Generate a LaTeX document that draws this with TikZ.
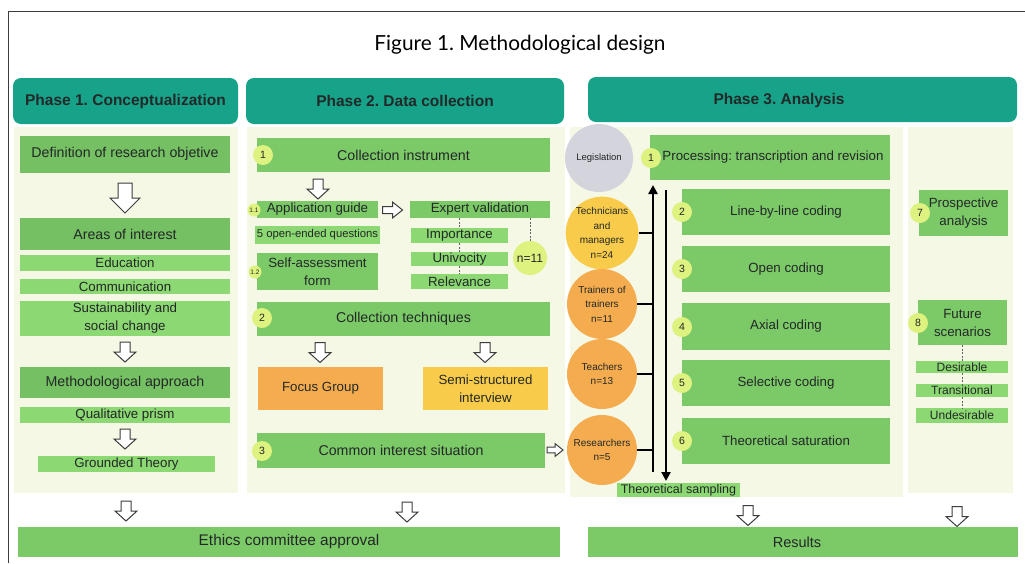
\documentclass[tikz,border=0pt]{standalone}
\usepackage{fontspec}
\setmainfont{Liberation Sans}
\newfontfamily\titlefont{Lato}
\usetikzlibrary{arrows.meta,calc}
\frenchspacing
\definecolor{teal1}{RGB}{22,163,137}
\definecolor{paleBG}{RGB}{244,248,229}
\definecolor{boxG}{RGB}{124,201,104}
\definecolor{boxD}{RGB}{116,192,98}
\definecolor{boxL}{RGB}{140,216,114}
\definecolor{numY}{RGB}{222,242,128}
\definecolor{orangeC}{RGB}{245,172,78}
\definecolor{yellowC}{RGB}{248,204,74}
\definecolor{greyC}{RGB}{212,212,220}
\definecolor{txt}{RGB}{35,40,40}
\definecolor{arrowG}{RGB}{60,60,60}
\tikzset{
 header/.style={rectangle, rounded corners=8pt, fill=teal1, text=txt, inner sep=0pt, font=\fontsize{15.5}{18}\selectfont\bfseries},
 box/.style={rectangle, fill=boxG, text=txt, inner sep=0pt, align=center, font=\fontsize{13.3}{18}\selectfont},
 bbox/.style={box, font=\fontsize{14.2}{18}\selectfont},
 dbox/.style={bbox, fill=boxD},
 subbox/.style={box, fill=boxL},
 bar/.style={box, fill=boxG, font=\fontsize{15.4}{18}\selectfont},
 num/.style={circle, fill=numY, inner sep=0pt, minimum size=20pt, text=txt, font=\fontsize{10.5}{12}\selectfont},
 numS/.style={num, minimum size=13pt, font=\fontsize{6.5}{7}\selectfont},
 pcirc/.style={circle, inner sep=0pt, minimum size=70pt, align=center, text=txt, font=\fontsize{10}{14.5}\selectfont},
 dl/.style={draw=arrowG!80, dash pattern=on 2pt off 1.5pt, line width=0.8pt},
 blk/.style={draw=black, line width=2.2pt},
 harrow/.style={draw=arrowG, fill=white, line width=1pt, line join=miter},
 pics/smalldown/.style={code={\draw[harrow] (-5,-10) -- (5,-10) -- (5,0) -- (11,0) -- (0,10) -- (-11,0) -- (-5,0) -- cycle;}},
 pics/bigdown/.style={code={\draw[harrow] (-7,-15) -- (7,-15) -- (7,0) -- (15,0) -- (0,15) -- (-15,0) -- (-7,0) -- cycle;}},
 pics/smallright/.style={code={\draw[harrow] (-10,-3.5) -- (0,-3.5) -- (0,-8) -- (10,0) -- (0,8) -- (0,3.5) -- (-10,3.5) -- cycle;}},
}
\begin{document}
\frenchspacing
\begin{tikzpicture}[x=1pt,y=-1pt]
\useasboundingbox (0,0) rectangle (1025,563);
\fill[white] (0,0) rectangle (1025,563);
\draw[arrowG, line width=1pt] (8,563) -- (8,11) -- (1025,11);
\node[font=\titlefont\fontsize{20.8}{24}\selectfont, text=black] (title) at (520,45) {Figure 1. Methodological design};

% column backgrounds
\fill[paleBG] (14,127) rectangle (238,493);
\fill[paleBG] (247,127) rectangle (565,493);
\fill[paleBG] (570,127) rectangle (903,497);
\fill[paleBG] (908,127) rectangle (1013,493);

% headers
\node[header, minimum width=225pt, minimum height=46pt] (h1) at (125.5,101) {Phase 1. Conceptualization};
\node[header, minimum width=318pt, minimum height=46pt] (h2) at (405,101) {Phase 2. Data collection};
\node[header, minimum width=429pt, minimum height=45pt] (h3) at (802.5,99.5) {};
\node[text=txt, font=\fontsize{15.5}{18}\selectfont\bfseries] (h3t) at (779,100) {Phase 3. Analysis};

% Phase 1
\node[dbox, minimum width=210pt, minimum height=37pt] (def) at (125,154) {Definition of research objetive};
\pic at (125,198) {bigdown};
\node[dbox, minimum width=210pt, minimum height=32pt] (areas) at (125,234) {Areas of interest};
\node[subbox, minimum width=210pt, minimum height=16pt] (edu) at (125,263) {Education};
\node[subbox, minimum width=210pt, minimum height=15pt] (com) at (125,286.5) {Communication};
\node[subbox, minimum width=210pt, minimum height=35pt] (sus) at (125,318.5) {Sustainability and\\social change};
\pic at (125,352) {smalldown};
\node[dbox, minimum width=210pt, minimum height=31pt] (meth) at (125,382.5) {Methodological approach};
\node[subbox, minimum width=210pt, minimum height=16pt] (qual) at (125,415) {Qualitative prism};
\pic at (125,439) {smalldown};
\node[subbox, minimum width=177pt, minimum height=16pt] (gt) at (126.5,464) {Grounded Theory};
\pic at (126,511) {smalldown};
\node[bar, minimum width=542pt, minimum height=30pt] (eth) at (289,542) {Ethics committee approval};

% Phase 2
\node[bbox, minimum width=293pt, minimum height=34pt] (ci) at (403.5,155) {Collection instrument};
\node[num] (n1) at (263,155) {1};
\pic at (318,189) {smalldown};
\node[box, minimum width=121pt, minimum height=17pt] (ag) at (317.5,209.5) {Application guide};
\node[numS] (n11) at (254,210) {1.1};
\pic at (392.5,210) {smallright};
\node[box, minimum width=140pt, minimum height=17pt] (ev) at (480,209.5) {Expert validation};
\node[subbox, minimum width=125pt, minimum height=18pt, font=\fontsize{11.3}{13}\selectfont] (oq) at (317.5,235) {5 open-ended questions};
\node[box, minimum width=121pt, minimum height=37pt] (sa) at (317.5,271.5) {Self-assessment\\form};
\node[numS] (n12) at (255,272) {1.2};
\node[subbox, minimum width=97pt, minimum height=15pt] (imp) at (459.5,235.5) {Importance};
\node[subbox, minimum width=97pt, minimum height=14pt] (uni) at (459.5,259) {Univocity};
\node[subbox, minimum width=97pt, minimum height=15pt] (rel) at (459.5,281.5) {Relevance};
\node[num, minimum size=34pt, font=\fontsize{12}{14}\selectfont] (nn) at (530,258) {n=11};
\draw[dl] (imp.north |- ev.south) -- (imp.north);
\draw[dl] (imp.south) -- (uni.north);
\draw[dl] (uni.south) -- (rel.north);
\draw[dl] (nn.north |- ev.south) -- (nn.north);

\node[bbox, minimum width=293pt, minimum height=34pt] (ct) at (403.5,319) {Collection techniques};
\node[num] (n2) at (262,318) {2};
\pic at (320,352.5) {smalldown};
\pic at (485,352.5) {smalldown};
\node[box, fill=orangeC, minimum width=125pt, minimum height=43pt] (fg) at (320.5,388.5) {Focus Group};
\node[box, fill=yellowC, minimum width=125pt, minimum height=43pt] (ssi) at (485.5,388.5) {Semi-structured\\interview};
\node[bbox, minimum width=288pt, minimum height=35pt] (cis) at (401,450.5) {Common interest situation};
\node[num] (n3) at (262,451) {3};
\pic[scale=0.8] at (555,450) {smallright};
\pic at (407,512) {smalldown};

% Phase 3 circles
\node[pcirc, fill=greyC, minimum size=68pt, font=\fontsize{9.5}{12}\selectfont] (leg) at (599,158) {Legislation};
\node[pcirc, fill=yellowC] (tec) at (602,233) {Technicians\\and\\managers\\n=24};
\node[pcirc, fill=orangeC] (tot) at (602,304) {Trainers of\\trainers\\n=11};
\node[pcirc, fill=orangeC] (tea) at (602,374) {Teachers\\n=13};
\node[pcirc, fill=orangeC] (res) at (602,450) {Researchers\\n=5};

% sampling arrows
\coordinate (upB) at (653,472);
\coordinate (upT) at (653,185);
\coordinate (dnT) at (666,190);
\coordinate (dnB) at (666,481);
\draw[blk, -{Triangle[length=9pt,width=9pt]}] (upB) -- (upT);
\draw[blk, -{Triangle[length=9pt,width=9pt]}] (dnT) -- (dnB);
\draw[blk] (tec.east) -- (tec.east -| upB);
\draw[blk] (tot.east) -- (tot.east -| upB);
\draw[blk] (tea.east) -- (tea.east -| upB);
\draw[blk] (res.east) -- (res.east -| upB);
\node[subbox, minimum width=123pt, minimum height=14pt, font=\fontsize{12.5}{14}\selectfont] (ts) at (678.5,490) {Theoretical sampling};

% Phase 3 boxes
\node[box, minimum width=240pt, minimum height=45pt] (proc) at (770,157.5) {\hspace*{6pt}Processing: transcription and revision};
\node[num] (p1) at (651,158) {1};
\node[box, minimum width=208pt, minimum height=46pt] (lbl) at (786,212) {Line-by-line coding};
\node[num] (p2) at (682,212) {2};
\node[box, minimum width=208pt, minimum height=46pt] (opc) at (786,269) {Open coding};
\node[num] (p3) at (682,269) {3};
\node[box, minimum width=208pt, minimum height=47pt] (axc) at (786,326.5) {Axial coding};
\node[num] (p4) at (682,327) {4};
\node[box, minimum width=208pt, minimum height=46pt] (sec) at (786,383) {Selective coding};
\node[num] (p5) at (682,383) {5};
\node[box, minimum width=208pt, minimum height=46pt] (tsat) at (786,441) {Theoretical saturation};
\node[num] (p6) at (682,441) {6};

\node[box, minimum width=89pt, minimum height=46pt] (pa) at (963.5,213) {Prospective\\analysis};
\node[num] (p7) at (920,213) {7};
\node[box, minimum width=89pt, minimum height=45pt] (fut) at (962.5,322.5) {Future\\scenarios};
\node[num] (p8) at (918,323) {8};
\node[subbox, minimum width=92pt, minimum height=12pt, font=\fontsize{12}{13}\selectfont] (des) at (962,367) {Desirable};
\node[subbox, minimum width=92pt, minimum height=13pt, font=\fontsize{12}{13}\selectfont] (tra) at (962,390.5) {Transitional};
\node[subbox, minimum width=92pt, minimum height=15pt, font=\fontsize{12}{13}\selectfont] (und) at (962,415.5) {Undesirable};
\draw[dl] (des.north |- fut.south) -- (des.north);
\draw[dl] (des.south) -- (tra.north);
\draw[dl] (tra.south) -- (und.north);

\pic at (748,515.5) {smalldown};
\pic at (957,516.5) {smalldown};
\node[bar, minimum width=430pt, minimum height=30pt] (resu) at (803,542) {};
\node[text=txt, font=\fontsize{14.5}{18}\selectfont] (resut) at (797,542) {Results};
\end{tikzpicture}
\end{document}
